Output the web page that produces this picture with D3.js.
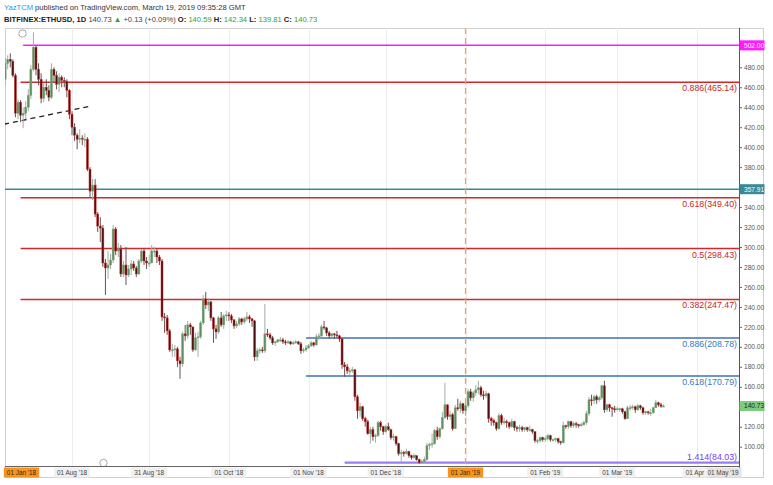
<!DOCTYPE html>
<html><head><meta charset="utf-8">
<script src="https://cdn.jsdelivr.net/npm/d3@7"></script>
<style>body{margin:0;background:#fff}svg{display:block;font-family:"Liberation Sans",Arial,sans-serif}</style>
</head><body><svg id="c" width="773" height="485"></svg>
<script>
// ---------- DATA ----------
const startDate = "2018-07-06";
const firstOpen = 468;
const closes = [
 484,488,486,472,434,445,432,434,440,452,478,500,478,468,449,460,457,450,478,472,463,470,467,466,457,433,
 420,412,408,409,408,408,378,356,362,333,321,319,284,279,282,287,318,296,298,273,282,272,278,283,279,273,286,296,286,284,284,
 296,296,290,286,230,229,216,197,197,198,186,183,213,211,222,220,197,209,210,224,248,242,245,229,218,215,229,222,231,232,
 231,227,221,223,228,225,228,230,228,226,190,196,197,196,213,212,209,204,205,207,207,205,204,205,203,204,205,203,196,197,199,
 201,204,202,210,211,220,219,214,211,213,212,211,208,182,180,176,176,177,150,136,140,128,125,113,117,110,111,124,120,115,
 120,117,109,110,103,93,94,93,95,91,89,91,87,84,85,87,101,102,103,116,110,118,129,142,130,132,118,139,138,143,136,
 141,155,149,154,157,159,152,151,153,128,126,124,118,131,124,125,124,120,125,119,118,119,117,119,117,117,115,106,106,109,107,
 108,111,107,107,108,105,104,121,120,125,121,123,122,121,122,124,133,147,146,150,147,149,161,137,142,139,138,137,
 138,138,135,128,139,139,140,137,141,139,134,135,134,134,139,144,142,140.59,140.73
];
const highs = [
 490,492,494,488,474,448,447,440,446,458,482,515,502,484,474,464,468,462,484,480,476,474,472,470,468,458,
 436,424,414,418,412,414,410,380,368,368,335,330,322,288,296,293,322,320,304,302,286,300,282,287,286,281,288,298,298,290,292,
 302,300,298,292,288,234,232,218,203,202,200,190,215,222,226,224,220,214,215,226,252,255,249,246,230,222,231,235,233,236,
 235,233,228,226,230,229,230,235,232,229,227,199,199,200,243,218,214,211,206,208,210,209,207,207,206,206,207,206,205,199,202,
 203,206,205,213,214,222,226,220,216,214,214,216,212,209,185,183,179,180,178,152,144,141,130,127,120,120,113,126,126,121,
 122,124,118,113,111,104,97,96,98,96,92,93,91,88,87,90,104,104,113,118,120,119,135,164,142,136,134,142,148,146,144,
 143,158,158,156,162,166,161,156,156,154,130,128,125,134,133,129,127,125,128,126,121,122,121,120,120,121,118,115,108,110,110,
 110,113,112,108,109,109,106,125,122,126,126,125,125,123,124,126,136,150,152,152,152,151,162,166,143,143,140,141,
 140,139,139,136,141,142,142,141,143,142,140,136,136,138,140,147,145,144,142.34
];
const lows = [
 462,478,480,470,430,428,425,419,428,436,448,476,472,462,444,445,452,446,448,465,458,455,460,460,450,428,
 412,406,398,404,402,400,376,350,347,330,315,305,280,252,268,278,284,292,290,270,270,262,270,272,276,270,272,284,282,278,280,
 284,290,284,282,226,214,212,195,190,190,180,168,180,206,208,212,195,196,190,208,222,238,236,226,204,208,213,220,218,226,
 226,224,218,219,221,222,223,226,224,220,186,186,193,194,194,210,207,202,201,204,205,203,202,203,202,202,203,202,193,194,195,
 198,200,200,201,207,209,217,211,208,210,208,209,205,178,170,173,172,174,146,128,130,126,120,112,103,106,104,110,116,112,
 114,116,107,106,101,91,85,90,92,89,87,88,86,83,84,84,86,97,99,102,107,108,117,128,127,127,116,118,136,134,133,
 131,139,146,145,151,153,150,147,149,124,121,121,116,117,122,122,119,118,119,116,115,115,115,115,115,115,113,104,103,104,105,
 105,106,105,105,105,103,102,103,118,118,119,119,119,119,120,121,122,131,141,143,143,145,147,134,135,135,130,134,
 136,135,133,127,128,136,137,134,136,137,132,132,132,131,133,139,140,139,139.81
];
const priceTicks = [100,120,160,180,200,220,240,260,280,300,320,340,380,400,420,440,460,480];
const dateTicks = ["2018-08-01","2018-08-31","2018-10-01","2018-11-01","2018-12-01","2019-02-01","2019-03-01","2019-04-01"];
const dateTickLabels = ["01 Aug '18","31 Aug '18","01 Oct '18","01 Nov '18","01 Dec '18","01 Feb '19","01 Mar '19","01 Apr"];
const anchorDates = ["2018-01-01","2019-01-01"];
const anchorLabels = ["01 Jan '18","01 Jan '19"];
const edgeLabel = "01 May '19";
const redFibRatios = ["0.886","0.618","0.5","0.382"];
const redFibPrices = [465.14,349.40,298.43,247.47];
const blueFibRatios = ["0.886","0.618"];
const blueFibPrices = [208.78,170.79];
const purpleFibRatios = ["1.414"];
const purpleFibPrices = [84.03];
const magentaLevel = 502.00;
const tealLevel = 357.91;
const lastPrice = 140.73;
const trendDates = ["2018-07-05T14:00:00Z","2018-08-08"];
const trendPrices = [423,441];
const verticalDate = "2019-01-01";
const redStart = "2018-07-12", magentaStart = "2018-07-13", blueStart = "2018-10-31", purpleStart = "2018-11-15";

// ---------- SETUP ----------
const svg = d3.select("#c");
const L = 5, R = 739, T = 28, B = 466;
const pd = s => new Date(s.length > 10 ? s : s + "T00:00:00Z");
const x = d3.scaleUtc().domain([pd("2018-08-01"), pd("2019-04-01")]).range([72, 697]);
const y = d3.scaleLinear().domain([100, 480]).range([446.7, 67.3]);

const candles = closes.map((c, i) => ({
  date: d3.utcDay.offset(pd(startDate), i),
  o: i === 0 ? firstOpen : closes[i - 1], h: highs[i], l: lows[i], c: c
}));

// header
const h1 = svg.append("text").attr("x", 4).attr("y", 10).attr("font-size", 7.6).attr("fill", "#333");
h1.append("tspan").attr("fill", "#2196f3").text("YazTCM");
h1.append("tspan").text(" published on TradingView.com, March 19, 2019 09:35:28 GMT");
const h2 = svg.append("text").attr("x", 4).attr("y", 21.5).attr("font-size", 7.6).attr("fill", "#222");
const grn = "#2fa32f";
[["BITFINEX:ETHUSD, 1D", "#222", "bold"], [" 140.73 ", "#444"], ["▲", grn], [" +0.13 (+0.09%) ", "#444"],
 ["O: ", "#222", "bold"], ["140.59 ", grn], ["H: ", "#222", "bold"], ["142.34 ", grn],
 ["L: ", "#222", "bold"], ["139.81 ", grn], ["C: ", "#222", "bold"], ["140.73", grn]]
 .forEach(([t, c, w]) => h2.append("tspan").attr("fill", c).attr("font-weight", w || "normal").text(t));

// frame
svg.append("rect").attr("x", 5.5).attr("y", 28.5).attr("width", 758).attr("height", 449)
  .attr("fill", "none").attr("stroke", "#d0d0d0");

// grid
svg.append("g").selectAll("line").data(dateTicks.concat([verticalDate])).join("line")
  .attr("x1", d => Math.round(x(pd(d))) + 0.5).attr("x2", d => Math.round(x(pd(d))) + 0.5)
  .attr("y1", T).attr("y2", B).attr("stroke", "#ececec");

svg.append("clipPath").attr("id", "clip").append("rect").attr("x", L).attr("y", T).attr("width", R - L).attr("height", B - T);
const plot = svg.append("g").attr("clip-path", "url(#clip)");

// horizontal levels
function hline(price, color, start, width) {
  plot.append("line").attr("x1", start ? x(pd(start)) : L).attr("x2", R)
    .attr("y1", y(price)).attr("y2", y(price)).attr("stroke", color).attr("stroke-width", width);
}
hline(magentaLevel, "#ff1aff", magentaStart, 1.5);
hline(tealLevel, "#3a8a96", null, 1.5);
redFibPrices.forEach(p => hline(p, "#d0282b", redStart, 1.5));
blueFibPrices.forEach(p => hline(p, "#3f72b5", blueStart, 1.5));
purpleFibPrices.forEach(p => hline(p, "#9a7cf4", purpleStart, 2.2));

// fib labels
function fibLabels(ratios, prices, color, above) {
  svg.append("g").selectAll("text").data(prices).join("text")
    .attr("x", 737).attr("y", p => above ? y(p) - 3 : y(p) + 9)
    .attr("text-anchor", "end").attr("font-size", 8.8).attr("fill", color)
    .text((p, i) => `${ratios[i]}(${p.toFixed(2)})`);
}
fibLabels(redFibRatios, redFibPrices, "#c62828", false);
fibLabels(blueFibRatios, blueFibPrices, "#3a78c0", false);
fibLabels(purpleFibRatios, purpleFibPrices, "#7442e6", true);

// vertical dashed line
plot.append("line").attr("x1", x(pd(verticalDate))).attr("x2", x(pd(verticalDate)))
  .attr("y1", T).attr("y2", B).attr("stroke", "#f4a259").attr("stroke-width", 1.3).attr("stroke-dasharray", "6,4");

// trend line
plot.append("line").attr("x1", x(pd(trendDates[0]))).attr("x2", x(pd(trendDates[1])))
  .attr("y1", y(trendPrices[0])).attr("y2", y(trendPrices[1]))
  .attr("stroke", "#222").attr("stroke-width", 1.3).attr("stroke-dasharray", "5,4");

// candles
const cg = plot.append("g");
cg.selectAll("line").data(candles).join("line")
  .attr("x1", d => x(d.date)).attr("x2", d => x(d.date))
  .attr("y1", d => y(d.h)).attr("y2", d => y(d.l))
  .attr("stroke", d => d.c >= d.o ? "#a4aca4" : "#6b5050").attr("stroke-width", 1);
cg.selectAll("rect").data(candles).join("rect")
  .attr("x", d => x(d.date) - 1).attr("width", 2)
  .attr("y", d => y(Math.max(d.o, d.c)))
  .attr("height", d => Math.max(1, Math.abs(y(d.o) - y(d.c))))
  .attr("fill", d => d.c >= d.o ? "#5e8f5e" : "#4a0f0f")
  .attr("stroke", d => d.c >= d.o ? "#7aa57a" : "#d32f2f").attr("stroke-width", 0.5);

// markers
svg.append("circle").attr("cx", 22.5).attr("cy", 33.5).attr("r", 3.7).attr("fill", "none").attr("stroke", "#aaa");
svg.append("circle").attr("cx", 103.5).attr("cy", 463).attr("r", 3.7).attr("fill", "#fff").attr("stroke", "#aaa");

// axes lines
svg.append("line").attr("x1", L).attr("x2", R).attr("y1", B + 0.5).attr("y2", B + 0.5).attr("stroke", "#666");
svg.append("line").attr("x1", R + 0.5).attr("x2", R + 0.5).attr("y1", T).attr("y2", 477).attr("stroke", "#555");

// price axis
const ya = svg.append("g").attr("transform", `translate(${R},0)`)
  .call(d3.axisRight(y).tickValues(priceTicks).tickSize(3).tickFormat(d3.format(".2f")));
ya.select(".domain").remove();
ya.selectAll("line").attr("stroke", "#666");
ya.selectAll("text").attr("font-size", 6.6).attr("fill", "#555").attr("x", 5).attr("font-family", "Liberation Sans, Arial");

function priceTag(p, bg, fg) {
  const g = svg.append("g");
  g.append("rect").attr("x", R + 0.5).attr("y", y(p) - 5).attr("width", 25).attr("height", 10).attr("fill", bg);
  g.append("text").attr("x", R + 5).attr("y", y(p) + 2.4).attr("font-size", 6.6).attr("fill", fg).text(p.toFixed(2));
}
priceTag(magentaLevel, "#ff1aff", "#fff");
priceTag(tealLevel, "#3a8a96", "#fff");
priceTag(lastPrice, "#7dcb7d", "#222");

// date axis labels
function dateLabel(cx, txt, bg, fg) {
  const g = svg.append("g");
  const t = g.append("text").attr("x", cx).attr("y", 474.5).attr("text-anchor", "middle")
    .attr("font-size", 6.4).attr("fill", fg).text(txt);
  const w = t.node().getComputedTextLength() + 6;
  g.insert("rect", "text").attr("x", cx - w / 2).attr("y", 467.5).attr("width", w).attr("height", 10).attr("fill", bg);
  return w;
}
dateLabel(R - 16, edgeLabel, "#e4e4e4", "#444");
dateTicks.forEach((d, i) => dateLabel(x(pd(d)) - (i === dateTicks.length - 1 ? 2 : 0), dateTickLabels[i], "#f0f0f0", "#444"));
anchorDates.forEach((d, i) => {
  const cx = Math.max(L + 16.5, x(pd(d)));
  dateLabel(cx, anchorLabels[i], "#f7931e", "#3a2a10");
});
</script></body></html>
